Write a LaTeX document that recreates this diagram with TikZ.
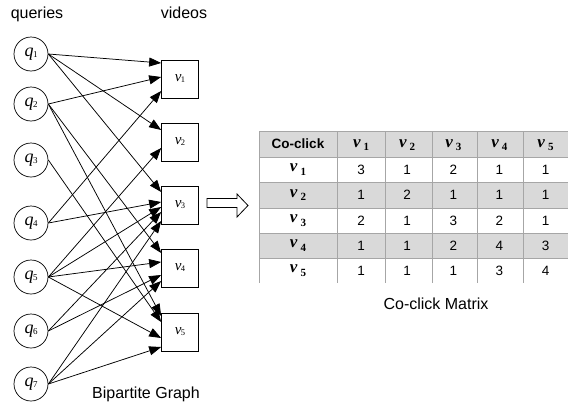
\documentclass[tikz,border=0pt]{standalone}
\usepackage{fontspec}
\setmainfont{Liberation Sans}
\newfontfamily\tnr{Liberation Serif}
\usetikzlibrary{arrows.meta}
\definecolor{cellgray}{HTML}{D9D9D9}
\definecolor{gridgray}{HTML}{A6A6A6}
\newcommand{\qlab}[1]{{\tnr\fontsize{18}{18}\selectfont\itshape q}\kern-0.5pt{\tnr\fontsize{9}{9}\selectfont\raisebox{-1pt}{#1}}}
\newcommand{\vlab}[1]{{\tnr\fontsize{15}{15}\selectfont\itshape v}\kern-0.5pt{\tnr\fontsize{8.5}{8.5}\selectfont\raisebox{-1pt}{#1}}}
\newcommand{\tv}[1]{{\tnr\fontsize{17}{17}\selectfont\bfseries\itshape v}\hspace{3pt}{\tnr\fontsize{11}{11}\selectfont\bfseries\raisebox{-3.5pt}{#1}}}
\begin{document}
\begin{tikzpicture}[x=1pt,y=-1pt,
  qnode/.style={circle,draw,line width=0.7pt,minimum size=34pt,inner sep=0pt},
  vnode/.style={rectangle,draw,line width=0.7pt,minimum width=37pt,minimum height=38pt,inner sep=0pt},
  edge/.style={line width=0.75pt,-{Triangle[length=12pt,width=9pt]}},
  captext/.style={font=\fontsize{16}{19}\selectfont,anchor=base,inner sep=0pt},
  cell/.style={font=\fontsize{13.5}{16}\selectfont,inner sep=0pt}]
\useasboundingbox (0,0) rectangle (570,407);
\fill[white] (0,0) rectangle (570,407);

% captions
\node[captext] (tq) at (37,18) {queries};
\node[captext] (tvid) at (184,18) {videos};
\node[captext] (tb) at (146,398) {Bipartite Graph};
\node[captext] (tm) at (436,309) {Co-click Matrix};

% query nodes
\foreach \i/\y in {1/54,2/104,3/160,4/223,5/277,6/331,7/384}
  \node[qnode] (q\i) at (31,\y) {\qlab{\i}};
% video nodes
\foreach \i/\y in {1/79,2/142,3/205,4/268,5/332}
  \node[vnode] (v\i) at (180,\y) {\vlab{\i}};

% edges
\foreach \q/\v/\s in {1/1/16, 1/2/12, 1/3/13, 2/1/2, 2/4/15, 2/5/16, 3/5/10,
    4/1/-12, 4/3/3, 5/2/-6, 5/3/-2, 5/4/6, 5/5/-6, 6/3/-7, 6/4/-7,
    7/3/-16, 7/4/-13, 7/5/-15}
  \draw[edge] (q\q.east) -- ([yshift=\s pt]v\v.west);

% hollow arrow
\draw[line width=0.8pt,fill=white] (207,198.5) -- (237,198.5) -- (237,194) -- (248,205.5)
  -- (237,217) -- (237,207.5) -- (207,207.5) -- cycle;

% table
\fill[cellgray] (259,131) rectangle (568,157);
\fill[cellgray] (259,182) rectangle (568,208);
\fill[cellgray] (259,233) rectangle (568,258);
\foreach \y in {131,157,182,208,233,258}
  \draw[gridgray,line width=0.8pt] (259,\y) -- (568,\y);
\foreach \x in {259,337,385,432,477,523}
  \draw[gridgray,line width=0.8pt] (\x,131) -- (\x,283);

\node[cell,font=\bfseries\fontsize{13.5}{16}\selectfont] (h0) at (298,144) {Co-click};
\foreach \c in {1,...,5}
  \node[inner sep=0pt] (h\c) at ({315+46.1*\c},145) {\tv{\c}};
\foreach \r/\y/\vals in {1/169.5/{3,1,2,1,1}, 2/195/{1,2,1,1,1}, 3/220.5/{2,1,3,2,1},
    4/245.5/{1,1,2,4,3}, 5/270.5/{1,1,1,3,4}} {
  \node[inner sep=0pt] (r\r) at (298,\y) {\tv{\r}};
  \foreach \val [count=\c] in \vals
    \node[cell] (m-\r-\c) at ({315+46.1*\c},\y) {\val};
}
\end{tikzpicture}
\end{document}
